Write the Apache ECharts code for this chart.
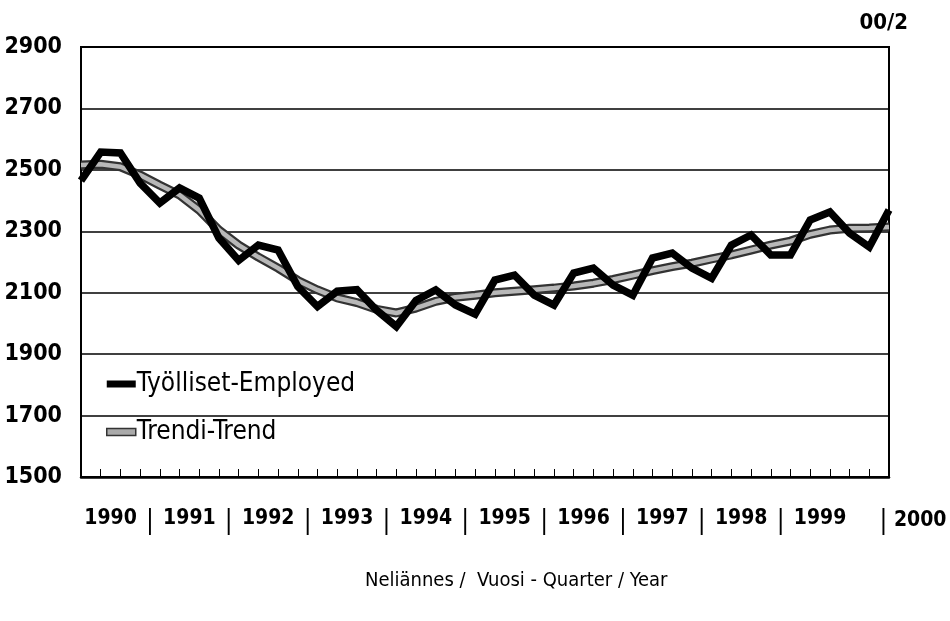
<!DOCTYPE html>
<html><head><meta charset="utf-8">
<script src="https://cdn.jsdelivr.net/npm/echarts@6/dist/echarts.min.js"></script>
<style>html,body{margin:0;padding:0;background:#fff}#c{width:950px;height:621px}</style>
</head><body><div id="c"></div>
<script>
var years = ['1990','1991','1992','1993','1994','1995','1996','1997','1998','1999','2000'];
var quarters = [];
years.forEach(function(y){ for (var q=1;q<=4;q++){ if (y==='2000' && q>2) return; quarters.push(y+'Q'+q); } });
var employed = [2465,2558,2555,2457, 2392,2441,2408,2278, 2205,2255,2239,2120,
  2055,2105,2110,2043, 1990,2075,2109,2060, 2030,2141,2157,2092,
  2060,2164,2180,2125, 2092,2213,2229,2180, 2147,2255,2288,2223,
  2223,2337,2363,2294, 2249,2369];
var trend = [2516,2518,2510,2483, 2450,2418,2369,2304, 2255,2216,2180,2140,
  2109,2083,2068,2046, 2034,2050,2072,2085, 2092,2100,2105,2110,
  2115,2122,2131,2143, 2157,2172,2185,2196, 2210,2223,2239,2255,
  2268,2290,2304,2310, 2311,2314];
var seriesNames = ['Työlliset-Employed','Trendi-Trend'];
var xTitle = 'Neliännes /  Vuosi - Quarter / Year';
var corner = '00/2';

var FONT = "'Liberation Sans Narrow','Arial Narrow','DejaVu Sans Condensed',sans-serif";
var halfSteps = [];
for (var i=0;i<quarters.length*2-1;i++) halfSteps.push('h'+i);

var chart = echarts.init(document.getElementById('c'), null, {renderer:'canvas'});
chart.setOption({
  animation:false,
  backgroundColor:'#fff',
  title:[
    {text:corner, right:37, top:7, textStyle:{fontFamily:FONT,fontSize:22,fontWeight:'bold',color:'#000'}},
    {text:xTitle, left:360, top:566, textStyle:{fontFamily:FONT,fontSize:20,fontWeight:'normal',color:'#000'}}
  ],
  legend:{
    orient:'vertical', left:101, top:366, itemWidth:29, itemHeight:7, itemGap:22,
    textStyle:{fontFamily:FONT,fontSize:26,color:'#000',padding:[0,0,0,-4]},
    data:[
      {name:seriesNames[0], icon:'rect', itemStyle:{color:'#000'}},
      {name:seriesNames[1], icon:'rect', itemStyle:{color:'#aaa',borderColor:'#333',borderWidth:1.5}}
    ]
  },
  grid:{left:81,right:61,top:47,bottom:144,outerBoundsMode:'none',containLabel:false,show:true,borderColor:'#000',borderWidth:2,backgroundColor:'transparent'},
  xAxis:[
    {type:'category', data:quarters, boundaryGap:false,
     axisLine:{show:true,lineStyle:{color:'#000',width:2.5}},
     axisTick:{show:true,inside:true,length:8,interval:0,lineStyle:{color:'#000',width:1}},
     axisLabel:{show:false}, splitLine:{show:false}},
    {type:'category', data:halfSteps, boundaryGap:false, position:'bottom',
     axisLine:{show:false}, axisTick:{show:false}, splitLine:{show:false},
     axisLabel:{show:true, interval:0, margin:31, color:'#000',
       formatter:function(v,idx){
         if (idx%8===3) return '{y|'+years[(idx-3)/8]+'}';
         if (idx%8===7 && idx<72) return '{s||}';
         if (idx===halfSteps.length-1) return '{p|}{s||}{y| '+years[10]+'}';
         return '';
       },
       rich:{
         y:{fontFamily:FONT,fontSize:21,fontWeight:'bold',color:'#000'},
         s:{fontFamily:FONT,fontSize:26,fontWeight:'normal',color:'#000'},
         p:{width:48}
       }}}
  ],
  yAxis:{type:'value', min:1500, max:2900, interval:200,
    axisLine:{show:true,lineStyle:{color:'#000',width:2}},
    axisTick:{show:false},
    axisLabel:{margin:19,color:'#000',fontFamily:FONT,fontSize:23,fontWeight:'bold',
      formatter:function(v){return String(v);}},
    splitLine:{show:true,lineStyle:{color:'#000',width:1.5}}},
  series:[
    {name:seriesNames[1], type:'line', data:trend, xAxisIndex:0, symbol:'none',
     lineStyle:{color:'#333',width:9}, z:2},
    {name:seriesNames[1], type:'line', data:trend, xAxisIndex:0, symbol:'none',
     lineStyle:{color:'#b8b8b8',width:4.5}, z:3},
    {name:seriesNames[0], type:'line', data:employed, xAxisIndex:0, symbol:'none',
     lineStyle:{color:'#000',width:7.5,join:'miter'}, z:4}
  ]
});
</script></body></html>
